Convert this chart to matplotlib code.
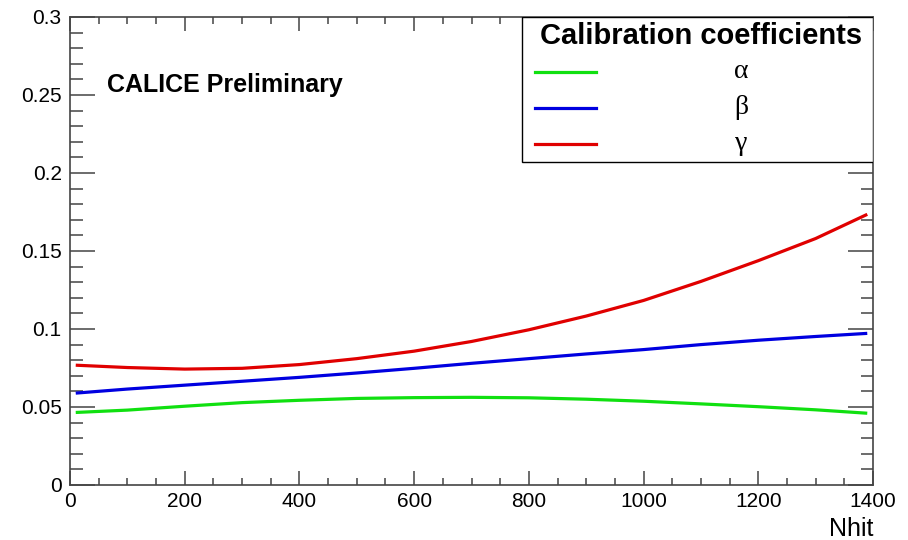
import matplotlib.pyplot as plt
from matplotlib.lines import Line2D
from matplotlib.patches import Rectangle
from matplotlib.ticker import MultipleLocator

plt.rcParams['font.family'] = ['Liberation Sans', 'DejaVu Sans']

# calibration coefficients vs number of hits
nhit = [10, 100, 200, 300, 400, 500, 600, 700, 800, 900, 1000, 1100, 1200, 1300, 1390]
alpha = [0.0465, 0.0480, 0.0505, 0.0528, 0.0543, 0.0555, 0.0560, 0.0562, 0.0559,
         0.0550, 0.0537, 0.0520, 0.0502, 0.0482, 0.0460]
beta = [0.0589, 0.0615, 0.0640, 0.0665, 0.0690, 0.0718, 0.0748, 0.0780, 0.0810,
        0.0840, 0.0868, 0.0900, 0.0928, 0.0952, 0.0972]
gamma = [0.0768, 0.0753, 0.0743, 0.0748, 0.0772, 0.0810, 0.0858, 0.0920, 0.0995,
         0.1083, 0.1183, 0.1305, 0.1438, 0.1580, 0.1735]

labels = ['\u03b1', '\u03b2', '\u03b3']
colors = ['#10e010', '#0000e0', '#e00000']

fig = plt.figure(figsize=(9.08, 5.4), dpi=100)
ax = fig.add_axes([70 / 908, 55 / 540, 803 / 908, 468 / 540])

for ys, c in zip([alpha, beta, gamma], colors):
    ax.plot(nhit, ys, color=c, lw=2.3, solid_capstyle='butt')

ax.set_xlim(0, 1400)
ax.set_ylim(0, 0.3)
ax.xaxis.set_major_locator(MultipleLocator(200))
ax.xaxis.set_minor_locator(MultipleLocator(50))
ax.yaxis.set_major_locator(MultipleLocator(0.05))
ax.yaxis.set_minor_locator(MultipleLocator(0.01))
ax.set_yticks([0, 0.05, 0.1, 0.15, 0.2, 0.25, 0.3])
ax.set_yticklabels(['0', '0.05', '0.1', '0.15', '0.2', '0.25', '0.3'])

for s in ax.spines.values():
    s.set_color('#444444')
    s.set_linewidth(1.2)
ax.tick_params(axis='both', which='both', direction='in', colors='#444444',
               labelcolor='black', top=True, right=True, width=1.1)
ax.tick_params(axis='x', which='major', length=10, labelsize=15, pad=5)
ax.tick_params(axis='x', which='minor', length=5)
ax.tick_params(axis='y', which='major', length=18, labelsize=15, pad=6)
ax.tick_params(axis='y', which='minor', length=9)

ax.text(1.0, -0.068, 'Nhit', transform=ax.transAxes, ha='right', va='top',
        fontsize=18)
ax.text(0.046, 0.855, 'CALICE Preliminary', transform=ax.transAxes,
        ha='left', va='center', fontsize=18, fontweight='bold')

# legend box
bx0, by0 = (522 - 70) / 803, 1 - 145 / 468
ax.add_patch(Rectangle((bx0, by0), 1 - bx0, 1 - by0, transform=ax.transAxes,
                       facecolor='white', edgecolor='black', lw=1.0, zorder=5))
ax.text((701 - 70) / 803, 1 - 19 / 468, 'Calibration coefficients',
        transform=ax.transAxes, ha='center', va='center', fontsize=21,
        fontweight='bold', zorder=6)
for i, (lab, c) in enumerate(zip(labels, colors)):
    yy = 1 - (55 + 36 * i) / 468
    ax.add_line(Line2D([(535 - 70) / 803, (596 - 70) / 803], [yy, yy],
                       transform=ax.transAxes, color=c, lw=2.3, zorder=6))
    ax.text((741 - 70) / 803, yy, lab, transform=ax.transAxes, ha='center',
            va='center', fontsize=20, family=['Liberation Serif', 'DejaVu Serif'],
            zorder=6)

fig.savefig('out.png', dpi=100)
